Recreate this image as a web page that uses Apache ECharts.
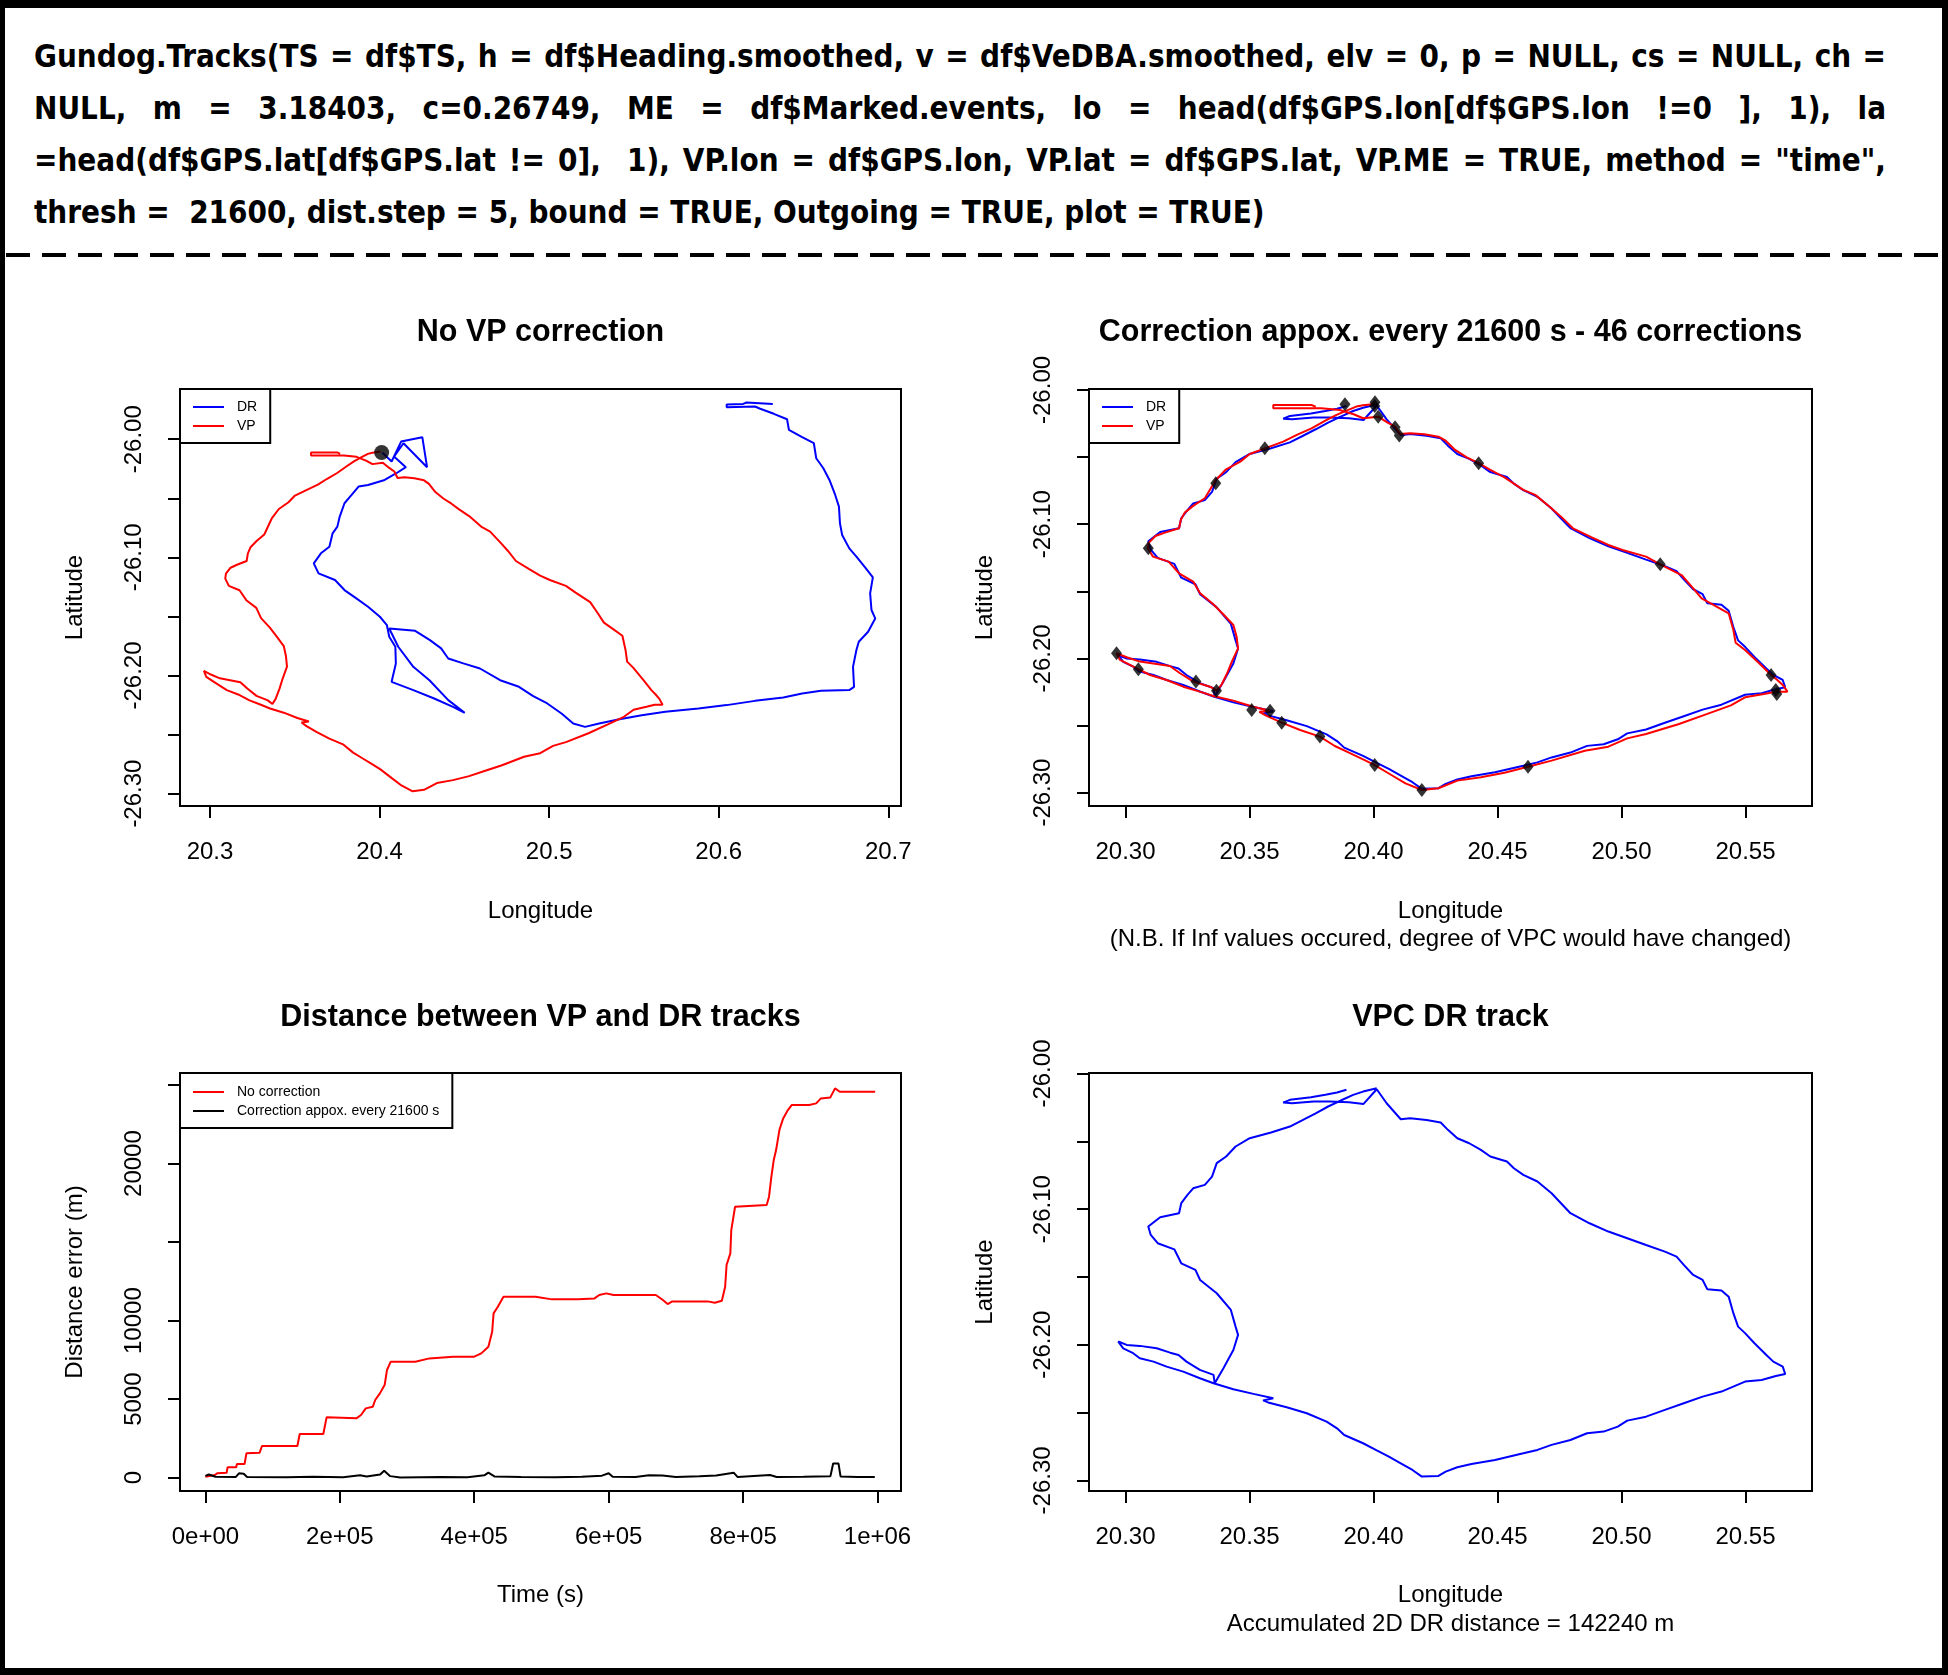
<!DOCTYPE html>
<html>
<head>
<meta charset="utf-8">
<script src="https://cdn.jsdelivr.net/npm/echarts@6/dist/echarts.min.js"></script>
<style>
html,body{margin:0;padding:0;background:#fff;}
#page{position:relative;width:1948px;height:1675px;overflow:hidden;background:#fff;}
#frame{position:absolute;left:0;top:0;width:1948px;height:1675px;box-sizing:border-box;border:5px solid #000;border-top-width:8px;border-bottom-width:7px;border-right-width:6px;z-index:5;pointer-events:none;}
#header{position:absolute;left:34px;top:30px;width:1852px;font-family:"Liberation Sans Narrow","DejaVu Sans Condensed","Arial Narrow",sans-serif;font-weight:bold;font-size:36px;line-height:52px;color:#000;z-index:2;}
.hl{white-space:pre;height:52px;}
#dash{position:absolute;left:0;top:245px;z-index:2;}
#chart{position:absolute;left:0;top:0;width:1948px;height:1675px;z-index:3;}
</style>
</head>
<body>
<div id="page">
  <div id="header"></div>
  <svg id="dash" width="1948" height="20"><line x1="6" y1="10" x2="1942" y2="10" stroke="#000" stroke-width="4" stroke-dasharray="24 12"/></svg>
  <div id="chart"></div>
  <div id="frame"></div>
</div>
<script>
// ---------------- header text ----------------
const headerLines = [
  'Gundog.Tracks(TS = df$TS, h = df$Heading.smoothed, v = df$VeDBA.smoothed, elv = 0, p = NULL, cs = NULL, ch =',
  'NULL, m = 3.18403, c=0.26749, ME = df$Marked.events, lo = head(df$GPS.lon[df$GPS.lon !=0 ], 1), la',
  '=head(df$GPS.lat[df$GPS.lat != 0],  1), VP.lon = df$GPS.lon, VP.lat = df$GPS.lat, VP.ME = TRUE, method = "time",',
  'thresh =  21600, dist.step = 5, bound = TRUE, Outgoing = TRUE, plot = TRUE)'
];

// ---------------- VP (GPS) track: shared by panels 1 and 2 ----------------
const vpLon = [20.4005,20.3958,20.3931,20.3891,20.3851,20.3806,20.3750,20.3691,20.3636,20.3562,20.3501,20.3463,20.3406,20.3364,20.3340,20.3320,20.3273,20.3239,20.3223,20.3216,20.3159,20.3121,20.3094,20.3090,20.3111,20.3174,20.3216,20.3273,20.3301,20.3353,20.3397,20.3435,20.3448,20.3454,20.3429,20.3410,20.3387,20.3368,
20.3341,20.3274,20.3220,20.3179,20.3126,20.3058,20.3005,20.2964,20.2978,20.3032,20.3099,20.3166,20.3233,20.3300,20.3354,20.3435,20.3515,20.3583,20.3540,20.3569,20.3630,20.3704,20.3784,
20.3844,20.3901,20.3958,20.4005,20.4072,20.4129,20.4195,20.4262,20.4338,20.4433,20.4528,20.4623,20.4718,20.4852,20.4947,20.5023,20.5099,20.5232,20.5346,20.5441,20.5498,20.5574,20.5622,20.5669,20.5650,20.5628,20.5603,20.5555,20.5498,20.5460,20.5451,20.5432,20.5365,20.5323,20.5289,20.5242,20.5156,20.5099,20.5004,20.4947,20.4880,20.4804,20.4756,20.4709,20.4652,20.4604,20.4528,20.4471,20.4424,20.4376,20.4329,20.4291,20.4262,20.4205,20.4148,20.4106,20.4087,20.4057,20.4019,20.3958,20.3920,20.3864,20.3790,20.3596,20.3596,20.3750,20.3767];
const vpLat = [-26.0104,-26.0114,-26.0124,-26.0154,-26.0186,-26.0229,-26.0286,-26.0335,-26.0385,-26.0435,-26.0477,-26.0534,-26.0591,-26.0671,-26.0745,-26.0807,-26.0864,-26.0914,-26.0969,-26.1031,-26.1063,-26.1088,-26.1138,-26.1180,-26.1242,-26.1279,-26.1366,-26.1428,-26.1515,-26.1595,-26.1677,-26.1751,-26.1838,-26.1925,-26.2024,-26.2111,-26.2198,-26.2241,
-26.2211,-26.2173,-26.2111,-26.2057,-26.2042,-26.2024,-26.1992,-26.1962,-26.2012,-26.2062,-26.2124,-26.2161,-26.2211,-26.2248,-26.2280,-26.2315,-26.2360,-26.2390,-26.2398,-26.2429,-26.2479,-26.2534,-26.2583,
-26.2653,-26.2703,-26.2752,-26.2795,-26.2869,-26.2931,-26.2981,-26.2968,-26.2911,-26.2886,-26.2852,-26.2807,-26.2762,-26.2688,-26.2658,-26.2596,-26.2564,-26.2489,-26.2414,-26.2350,-26.2290,-26.2265,-26.2248,-26.2248,-26.2198,-26.2161,-26.2124,-26.2037,-26.1938,-26.1883,-26.1789,-26.1664,-26.1595,-26.1553,-26.1478,-26.1379,-26.1299,-26.1242,-26.1192,-26.1155,-26.1098,-26.1031,-26.0944,-26.0869,-26.0782,-26.0745,-26.0651,-26.0596,-26.0546,-26.0502,-26.0447,-26.0378,-26.0348,-26.0330,-26.0323,-26.0328,-26.0273,-26.0243,-26.0199,-26.0211,-26.0181,-26.0149,-26.0137,-26.0137,-26.0112,-26.0112,-26.0124];

// ---------------- uncorrected DR track (panel 1) ----------------
const drLon = [20.4016,20.4071,20.4127,20.4252,20.4280,20.4141,20.4085,20.4155,20.4099,20.4030,
20.3932,20.3876,20.3835,20.3793,20.3765,20.3751,20.3723,20.3704,20.3654,20.3612,
20.3640,20.3737,20.3793,20.3863,20.3932,20.4002,20.4043,20.4057,20.4093,20.4096,
20.4071,20.4199,20.4322,20.4433,20.4502,20.4405,20.4294,20.4199,20.4110,20.4057,
20.4210,20.4297,20.4363,20.4405,20.4494,20.4592,20.4711,20.4822,20.4906,20.4989,
20.5073,20.5142,20.5212,20.5295,20.5407,20.5546,20.5685,20.5880,20.6047,20.6214,
20.6381,20.6492,20.6603,20.6770,20.6798,20.6792,20.6812,20.6826,20.6881,20.6923,
20.6901,20.6893,20.6909,20.6868,20.6812,20.6770,20.6728,20.6715,20.6709,20.6687,
20.6653,20.6617,20.6575,20.6561,20.6492,20.6414,20.6403,20.6325,20.6241,20.6214,
20.6047,20.6047,20.6144,20.6164,20.6319];
const drLat = [-26.0113,-26.0189,-26.0020,-25.9983,-26.0237,-26.0034,-26.0147,-26.0237,-26.0288,-26.0345,
-26.0387,-26.0401,-26.0472,-26.0542,-26.0655,-26.0740,-26.0797,-26.0910,-26.0966,-26.1051,
-26.1136,-26.1192,-26.1277,-26.1347,-26.1418,-26.1503,-26.1573,-26.1672,-26.1757,-26.1898,
-26.2054,-26.2124,-26.2195,-26.2266,-26.2316,-26.2209,-26.2040,-26.1927,-26.1757,-26.1602,
-26.1622,-26.1701,-26.1771,-26.1856,-26.1898,-26.1941,-26.2040,-26.2096,-26.2175,-26.2237,
-26.2322,-26.2407,-26.2435,-26.2407,-26.2373,-26.2336,-26.2308,-26.2280,-26.2251,-26.2215,
-26.2186,-26.2153,-26.2130,-26.2124,-26.2096,-26.1927,-26.1785,-26.1715,-26.1630,-26.1517,
-26.1446,-26.1305,-26.1170,-26.1093,-26.0994,-26.0924,-26.0811,-26.0712,-26.0571,-26.0472,
-26.0345,-26.0246,-26.0161,-26.0034,-25.9983,-25.9921,-25.9831,-25.9785,-25.9740,-25.9723,
-25.9729,-25.9706,-25.9701,-25.9689,-25.9701];

// ---------------- VP-corrected DR track (panels 2 and 4) ----------------
const vpcLon = [20.4013,20.3958,20.3918,20.3868,20.3817,20.3767,20.3710,20.3663,20.3587,20.3501,20.3444,20.3406,20.3368,20.3349,20.3320,20.3273,20.3250,20.3225,20.3216,20.3140,20.3092,20.3102,20.3130,20.3197,20.3225,20.3282,20.3301,20.3368,20.3425,20.3444,20.3454,20.3435,20.3395,20.3360,
20.3355,20.3300,20.3246,20.3214,20.3180,20.3126,20.3058,20.3005,20.2971,20.2991,20.3031,20.3058,20.3113,20.3166,20.3233,20.3300,20.3355,20.3435,20.3516,20.3596,20.3555,20.3575,20.3650,20.3731,20.3811,
20.3853,20.3882,20.3958,20.4015,20.4062,20.4110,20.4157,20.4195,20.4262,20.4291,20.4338,20.4395,20.4490,20.4604,20.4661,20.4718,20.4794,20.4861,20.4928,20.4985,20.5023,20.5099,20.5175,20.5251,20.5327,20.5403,20.5498,20.5565,20.5622,20.5660,20.5650,20.5612,20.5584,20.5536,20.5498,20.5470,20.5451,20.5432,20.5403,20.5346,20.5327,20.5289,20.5251,20.5222,20.5175,20.5099,20.5023,20.4947,20.4871,20.4794,20.4775,20.4718,20.4661,20.4604,20.4566,20.4538,20.4471,20.4433,20.4386,20.4338,20.4300,20.4271,20.4214,20.4148,20.4110,20.4053,20.4013,20.3960,20.3901,20.3824,20.3758,20.3672,20.3636,20.3663,20.3748,20.3806,20.3853,20.3891];
const vpcLat = [-26.0108,-26.0133,-26.0157,-26.0199,-26.0243,-26.0293,-26.0347,-26.0391,-26.0435,-26.0477,-26.0538,-26.0612,-26.0661,-26.0760,-26.0821,-26.0846,-26.0895,-26.0956,-26.1030,-26.1059,-26.1128,-26.1190,-26.1251,-26.1296,-26.1399,-26.1448,-26.1522,-26.1620,-26.1743,-26.1866,-26.1927,-26.2038,-26.2173,-26.2284,
-26.2222,-26.2185,-26.2124,-26.2075,-26.2058,-26.2026,-26.2008,-26.2001,-26.1976,-26.2026,-26.2062,-26.2099,-26.2124,-26.2161,-26.2198,-26.2247,-26.2284,-26.2328,-26.2362,-26.2394,-26.2410,-26.2425,-26.2461,-26.2505,-26.2566,
-26.2616,-26.2665,-26.2726,-26.2780,-26.2824,-26.2874,-26.2923,-26.2972,-26.2967,-26.2935,-26.2903,-26.2879,-26.2849,-26.2800,-26.2775,-26.2738,-26.2702,-26.2652,-26.2640,-26.2603,-26.2559,-26.2530,-26.2480,-26.2431,-26.2382,-26.2345,-26.2271,-26.2259,-26.2230,-26.2215,-26.2161,-26.2124,-26.2075,-26.1989,-26.1914,-26.1866,-26.1767,-26.1645,-26.1600,-26.1590,-26.1522,-26.1485,-26.1411,-26.1350,-26.1313,-26.1264,-26.1214,-26.1165,-26.1104,-26.1030,-26.0993,-26.0883,-26.0796,-26.0747,-26.0698,-26.0649,-26.0612,-26.0563,-26.0514,-26.0477,-26.0415,-26.0361,-26.0342,-26.0329,-26.0337,-26.0219,-26.0116,-26.0224,-26.0211,-26.0206,-26.0206,-26.0219,-26.0214,-26.0194,-26.0175,-26.0157,-26.0140,-26.0120];

// ---------------- correction points (panel 2) and start point (panel 1) ----------------
const corrLon = [20.3885,20.4006,20.4005,20.4019,20.4087,20.4104,20.3562,20.3364,20.3092,20.4424,20.5156,20.5603,20.5622,20.5626,20.2964,20.3052,20.3284,20.3367,20.3509,20.3583,20.3630,20.3784,20.4005,20.4195,20.4623];
const corrLat = [-26.0107,-26.0092,-26.0119,-26.0199,-26.0278,-26.0340,-26.0435,-26.0696,-26.1180,-26.0546,-26.1299,-26.2124,-26.2236,-26.2265,-26.1962,-26.2082,-26.2173,-26.2241,-26.2385,-26.2390,-26.2479,-26.2583,-26.2795,-26.2981,-26.2807];
const startLon = [20.4012];
const startLat = [-26.0112];

// ---------------- distance between VP and DR (panel 3) ----------------
const noCorrTime = [0,14035,17544,31579,32982,45614,47018,58245,61052,80702,84211,136842,140351,175439,180351,224561,231579,238596,249123,252632,259649,266667,270175,275789,312281,333333,368421,400000,410526,421053,426667,428772,435088,443509,491228,515789,554386,578947,585965,596491,607018,670175,680702,687719,694737,747368,757895,768421,773333,775439,781053,782456,788070,835088,838596,842105,845614,849123,854035,859649,866667,872281,898246,908772,915789,929825,936842,943860,996491];
const noCorrDist = [60,170,276,318,658,658,870,870,1549,1592,2016,2016,2780,2780,3841,3778,3990,4414,4520,4945,5369,5900,6855,7385,7385,7597,7704,7704,7916,8340,9295,10462,10887,11524,11524,11354,11354,11417,11630,11736,11630,11630,11311,11057,11226,11226,11142,11269,12160,13540,14282,15768,17253,17360,17890,19163,20225,20861,22135,22877,23408,23726,23726,23832,24150,24214,24787,24575,24575];
const corrTime = [0,5000,15000,45000,50000,57000,62000,120000,160000,205000,230000,240000,260000,266000,275000,290000,350000,390000,415000,421000,430000,470000,520000,560000,590000,600000,606000,640000,660000,680000,700000,735000,760000,786000,792000,840000,850000,890000,930000,934000,942000,945000,970000,996000];
const corrDist = [120,200,60,40,280,250,40,30,60,30,150,80,200,440,100,20,50,30,150,320,80,40,30,60,130,280,60,40,150,140,50,90,140,320,40,170,40,60,100,900,900,80,40,40];

// ---------------- axis ticks / labels ----------------
const lonTicks1 = [20.3,20.4,20.5,20.6,20.7];
const latTicks = [-26.30,-26.25,-26.20,-26.15,-26.10,-26.05,-26.00];
const latLabels = [-26.30,-26.20,-26.10,-26.00];
const lonTicks2 = [20.30,20.35,20.40,20.45,20.50,20.55];
const timeTicks = [0,200000,400000,600000,800000,1000000];
const timeTickLabels = ['0e+00','2e+05','4e+05','6e+05','8e+05','1e+06'];
const distTicks = [0,5000,10000,15000,20000,25000];
const distLabels = [0,5000,10000,20000];

// ---------------- header layout ----------------
(function(){
  const header = document.getElementById('header');
  const spans = headerLines.map(t => {
    const d = document.createElement('div'); d.className = 'hl';
    const s = document.createElement('span'); s.textContent = t;
    d.appendChild(s); header.appendChild(d); return s;
  });
  const base = 36;
  const w4 = spans[3].getBoundingClientRect().width;
  let fs = base * 1231 / w4; fs = Math.max(28, Math.min(42, fs));
  header.style.fontSize = fs + 'px';
  for (let i = 0; i < 3; i++) {
    const w = spans[i].getBoundingClientRect().width;
    const n = (headerLines[i].match(/ /g) || []).length;
    spans[i].style.wordSpacing = ((1852 - w) / n) + 'px';
  }
})();

// ---------------- chart ----------------
const FONT = '"Liberation Sans", Arial, sans-serif';
const zip = (a, b) => a.slice(0, Math.min(a.length, b.length)).map((v, i) => [v, b[i]]);

function axis(o) {
  return {
    type: 'value', gridIndex: o.g, min: o.min, max: o.max,
    axisLine: { show: false, onZero: false }, splitLine: { show: false },
    axisTick: { show: true, inside: false, length: 12, customValues: o.ticks, lineStyle: { color: '#000', width: 2 } },
    axisLabel: { show: true, customValues: o.labels, formatter: o.fmt, fontSize: 24, fontFamily: FONT, color: '#000',
                 margin: 34, rotate: o.rot || 0, hideOverlap: false, showMinLabel: true, showMaxLabel: true },
    name: o.name, nameLocation: 'middle', nameGap: o.gap, nameRotate: o.nameRot || 0,
    nameTextStyle: { fontSize: 24, fontFamily: FONT, color: '#000' }
  };
}
const f1 = v => v.toFixed(1), f2 = v => v.toFixed(2);
const fTime = v => { const i = timeTicks.findIndex(t => Math.abs(t - v) < 1); return i >= 0 ? timeTickLabels[i] : ''; };
const fDist = v => String(Math.round(v));

const legendBase = {
  orient: 'vertical', padding: [10, 13, 9, 13], itemGap: 3, itemWidth: 31, itemHeight: 2, icon: 'rect',
  borderColor: '#000', borderWidth: 2, borderRadius: 0, backgroundColor: '#fff', selectedMode: false,
  textStyle: { fontSize: 14, fontFamily: FONT, color: '#000', padding: [0, 0, 0, 8], lineHeight: 16 }
};
const titleStyle = { fontSize: 30.5, fontWeight: 'bold', fontFamily: FONT, color: '#000' };

function line(name, x, y, data, color, z) {
  return { name, type: 'line', xAxisIndex: x, yAxisIndex: y, data, showSymbol: false, symbol: 'none',
           lineStyle: { color, width: 2 }, itemStyle: { color }, z: z || 2, silent: true, animation: false };
}

const chart = echarts.init(document.getElementById('chart'), null, { renderer: 'canvas' });
chart.setOption({
  animation: false,
  backgroundColor: 'transparent',
  title: [
    { text: 'No VP correction', left: 540.5, top: 317, textAlign: 'center', padding: 0, textStyle: titleStyle },
    { text: 'Correction appox. every 21600 s - 46 corrections', left: 1450.5, top: 317, textAlign: 'center', padding: 0, textStyle: titleStyle },
    { text: 'Distance between VP and DR tracks', left: 540.5, top: 1002, textAlign: 'center', padding: 0, textStyle: titleStyle },
    { text: 'VPC DR track', left: 1450.5, top: 1002, textAlign: 'center', padding: 0, textStyle: titleStyle }
  ],
  legend: [
    Object.assign({}, legendBase, { data: ['DR', 'VP'], left: 180, top: 389 }),
    Object.assign({}, legendBase, { data: ['DR', 'VP'], left: 1089, top: 389 }),
    Object.assign({}, legendBase, { data: ['No correction', 'Correction appox. every 21600 s'], left: 180, top: 1073, padding: [11, 13, 9, 13] })
  ],
  grid: [
    { left: 180, top: 389, width: 721, height: 417, show: true, borderColor: '#000', borderWidth: 2, backgroundColor: 'transparent', containLabel: false },
    { left: 1089, top: 389, width: 723, height: 417, show: true, borderColor: '#000', borderWidth: 2, backgroundColor: 'transparent', containLabel: false },
    { left: 180, top: 1073, width: 721, height: 418, show: true, borderColor: '#000', borderWidth: 2, backgroundColor: 'transparent', containLabel: false },
    { left: 1089, top: 1073, width: 723, height: 418, show: true, borderColor: '#000', borderWidth: 2, backgroundColor: 'transparent', containLabel: false }
  ],
  xAxis: [
    axis({ g: 0, min: 20.2823, max: 20.7075, ticks: lonTicks1, labels: lonTicks1, fmt: f1, name: 'Longitude', gap: 93 }),
    axis({ g: 1, min: 20.2853, max: 20.5768, ticks: lonTicks2, labels: lonTicks2, fmt: f2, name: 'Longitude', gap: 93 }),
    axis({ g: 2, min: -37790, max: 1034965, ticks: timeTicks, labels: timeTicks, fmt: fTime, name: 'Time (s)', gap: 92 }),
    axis({ g: 3, min: 20.2853, max: 20.5768, ticks: lonTicks2, labels: lonTicks2, fmt: f2, name: 'Longitude', gap: 92 })
  ],
  yAxis: [
    axis({ g: 0, min: -26.3105, max: -25.9575, ticks: latTicks, labels: latLabels, fmt: f2, rot: 90, name: 'Latitude', gap: 93, nameRot: 90 }),
    axis({ g: 1, min: -26.3100, max: -25.9993, ticks: latTicks, labels: latLabels, fmt: f2, rot: 90, name: 'Latitude', gap: 92, nameRot: 90 }),
    axis({ g: 2, min: -847, max: 25767, ticks: distTicks, labels: distLabels, fmt: fDist, rot: 90, name: 'Distance error (m)', gap: 93, nameRot: 90 }),
    axis({ g: 3, min: -26.3078, max: -25.9996, ticks: latTicks, labels: latLabels, fmt: f2, rot: 90, name: 'Latitude', gap: 92, nameRot: 90 })
  ],
  graphic: [
    { type: 'text', x: 1450.5, y: 939, style: { text: '(N.B. If Inf values occured, degree of VPC would have changed)', fontSize: 24, fontFamily: FONT, fill: '#000', textAlign: 'center', textVerticalAlign: 'middle' } },
    { type: 'text', x: 1450.5, y: 1624, style: { text: 'Accumulated 2D DR distance = 142240 m', fontSize: 24, fontFamily: FONT, fill: '#000', textAlign: 'center', textVerticalAlign: 'middle' } }
  ],
  series: [
    line('DR', 0, 0, zip(drLon, drLat), '#0000ff', 2),
    line('VP', 0, 0, zip(vpLon, vpLat), '#ff0000', 3),
    { name: 'start', type: 'scatter', xAxisIndex: 0, yAxisIndex: 0, data: zip(startLon, startLat), symbol: 'circle', symbolSize: 15,
      itemStyle: { color: '#000' }, z: 6, silent: true },
    line('DR', 1, 1, zip(vpcLon, vpcLat), '#0000ff', 2),
    line('VP', 1, 1, zip(vpLon, vpLat), '#ff0000', 3),
    { name: 'corrections', type: 'scatter', xAxisIndex: 1, yAxisIndex: 1, data: zip(corrLon, corrLat), symbol: 'diamond', symbolSize: [11, 14],
      itemStyle: { color: '#000' }, z: 6, silent: true },
    line('No correction', 2, 2, zip(noCorrTime, noCorrDist), '#ff0000', 2),
    line('Correction appox. every 21600 s', 2, 2, zip(corrTime, corrDist), '#000000', 3),
    line('VPC DR', 3, 3, zip(vpcLon, vpcLat), '#0000ff', 2)
  ]
});
</script>
</body>
</html>
